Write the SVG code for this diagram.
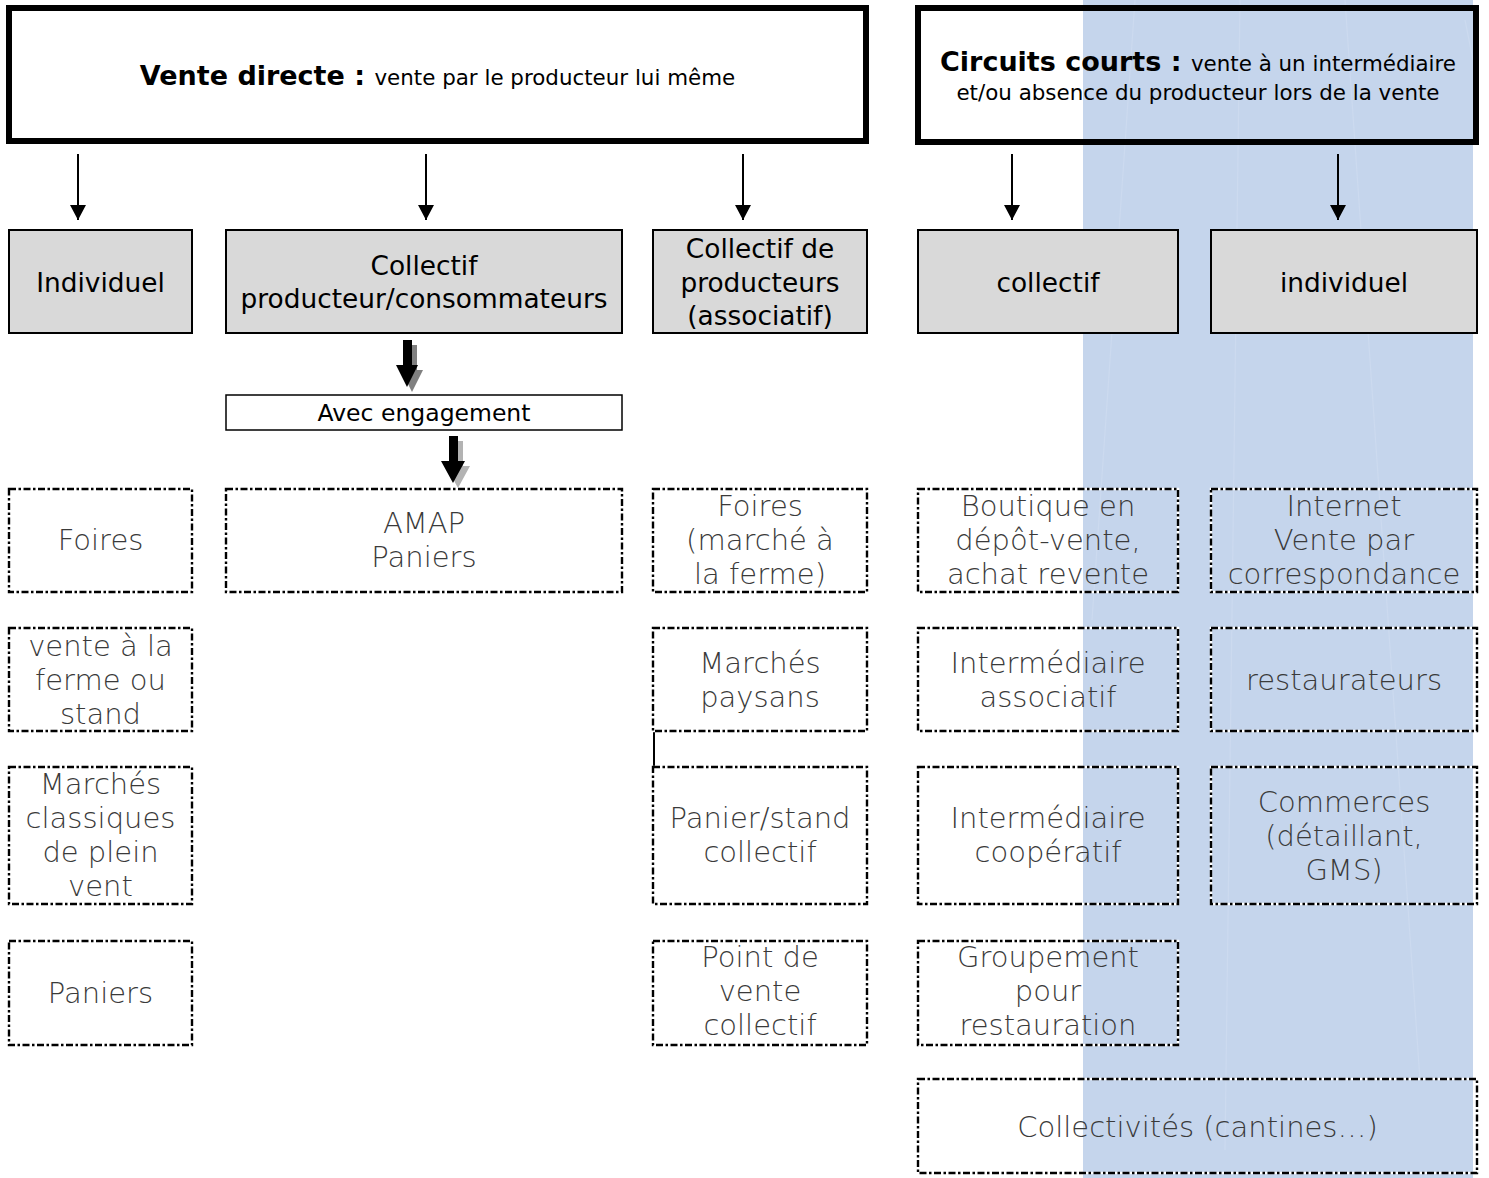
<svg xmlns="http://www.w3.org/2000/svg" width="1489" height="1178" viewBox="0 0 1489 1178">
<style>
  .hdr { fill: none; stroke: #000; stroke-width: 6; }
  .cat { fill: #D9D9D9; stroke: #000; stroke-width: 2; }
  .dashu { fill: none; stroke: #fff; stroke-width: 2.4; }
  .dash { fill: none; stroke: #000; stroke-width: 2.4; stroke-dasharray: 7 2.5 2.5 2.5; }
  .t { font-family: "DejaVu Sans", "Liberation Sans", sans-serif; fill: #000; text-anchor: middle; }
  .cat-t { font-size: 26.4px; }
  .lt { font-family: "DejaVu Sans ExtraLight", "DejaVu Sans", "Liberation Sans", sans-serif; font-weight: 200; font-size: 29px; fill: #3a3a3a; text-anchor: middle; }
  .b { font-weight: bold; font-size: 27px; }
  .s { font-size: 21.4px; }
  .thin { stroke: #000; stroke-width: 2; fill: none; }
  .band-line { stroke: #CCDAEF; stroke-width: 1.2; fill: none; }
</style>
<defs>
  <marker id="ah" markerWidth="16" markerHeight="16" refX="15" refY="8" orient="auto" markerUnits="userSpaceOnUse" viewBox="0 0 16 16">
    <path d="M0,0 L15,8 L0,16 Z" fill="#000"/>
  </marker>
</defs>
<rect width="1489" height="1178" fill="#fff"/>

<g id="band">
  <rect x="1083" y="0" width="390" height="1178" fill="#C5D5EC"/>
  <path class="band-line" d="M1135,0 L1092,620"/>
  <path class="band-line" d="M1240,0 L1225,1150"/>
  <path class="band-line" d="M1345,0 L1420,1080"/>
  <path class="band-line" d="M1465,20 L1473,60"/>
</g>

<g id="vente-directe">
  <rect class="hdr" x="9" y="8" width="857" height="133"/>
  <text class="t" x="437.5" y="85"><tspan class="b">Vente directe : </tspan><tspan class="s">vente par le producteur lui même</tspan></text>
</g>
<g id="circuits-courts">
  <rect class="hdr" x="918" y="8" width="558" height="134"/>
  <text class="t" x="1198" y="71"><tspan class="b">Circuits courts : </tspan><tspan class="s">vente à un intermédiaire</tspan></text>
  <text class="t s" x="1198" y="100">et/ou absence du producteur lors de la vente</text>
</g>

<g id="connectors">
  <line class="thin" x1="78" y1="154" x2="78" y2="220" marker-end="url(#ah)"/>
  <line class="thin" x1="426" y1="154" x2="426" y2="220" marker-end="url(#ah)"/>
  <line class="thin" x1="743" y1="154" x2="743" y2="220" marker-end="url(#ah)"/>
  <line class="thin" x1="1012" y1="154" x2="1012" y2="220" marker-end="url(#ah)"/>
  <line class="thin" x1="1338" y1="154" x2="1338" y2="220" marker-end="url(#ah)"/>
  <path d="M408,345 L417,345 L417,370 L423,370 L412,392 L401,370 L408,370 Z" fill="#808080"/>
  <path d="M403,340 L412,340 L412,365 L418,365 L407,387 L396,365 L403,365 Z" fill="#000"/>
  <path d="M454,441 L463,441 L463,466 L470,466 L458,488 L446,466 L454,466 Z" fill="#B3B3B3"/>
  <path d="M449,436 L458,436 L458,461 L465,461 L453,483 L441,461 L449,461 Z" fill="#000"/>
  <line x1="654" y1="731" x2="654" y2="767" stroke="#000" stroke-width="2"/>
</g>

<g id="individuel-vd">
  <rect class="cat" x="9" y="230" width="183" height="103"/>
  <text class="t cat-t" x="100.5" y="292">Individuel</text>
</g>
<g id="collectif-prod-conso">
  <rect class="cat" x="226" y="230" width="396" height="103"/>
  <text class="t cat-t" x="424" y="275">Collectif</text>
  <text class="t cat-t" x="424" y="308">producteur/consommateurs</text>
</g>
<g id="collectif-producteurs">
  <rect class="cat" x="653" y="230" width="214" height="103"/>
  <text class="t cat-t" x="760" y="258">Collectif de</text>
  <text class="t cat-t" x="760" y="292">producteurs</text>
  <text class="t cat-t" x="760" y="325">(associatif)</text>
</g>
<g id="collectif-cc">
  <rect class="cat" x="918" y="230" width="260" height="103"/>
  <text class="t cat-t" x="1048" y="292">collectif</text>
</g>
<g id="individuel-cc">
  <rect class="cat" x="1211" y="230" width="266" height="103"/>
  <text class="t cat-t" x="1344" y="292">individuel</text>
</g>

<g id="avec-engagement">
  <rect x="226" y="395" width="396" height="35" fill="#fff" stroke="#000" stroke-width="1.5"/>
  <text class="t" x="424" y="421" font-size="23.5">Avec engagement</text>
</g>

<g id="foires-1">
  <rect class="dashu" x="9" y="489" width="183" height="103"/><rect class="dash" x="9" y="489" width="183" height="103"/>
  <text class="lt" x="100.5" y="550">Foires</text>
</g>
<g id="vente-ferme">
  <rect class="dashu" x="9" y="628" width="183" height="103"/><rect class="dash" x="9" y="628" width="183" height="103"/>
  <text class="lt" x="100.5" y="656">vente à la</text>
  <text class="lt" x="100.5" y="690">ferme ou</text>
  <text class="lt" x="100.5" y="724">stand</text>
</g>
<g id="marches-classiques">
  <rect class="dashu" x="9" y="767" width="183" height="137"/><rect class="dash" x="9" y="767" width="183" height="137"/>
  <text class="lt" x="100.5" y="794">Marchés</text>
  <text class="lt" x="100.5" y="828">classiques</text>
  <text class="lt" x="100.5" y="862">de plein</text>
  <text class="lt" x="100.5" y="896">vent</text>
</g>
<g id="paniers-1">
  <rect class="dashu" x="9" y="941" width="183" height="104"/><rect class="dash" x="9" y="941" width="183" height="104"/>
  <text class="lt" x="100.5" y="1003">Paniers</text>
</g>

<g id="amap">
  <rect class="dashu" x="226" y="489" width="396" height="103"/><rect class="dash" x="226" y="489" width="396" height="103"/>
  <text class="lt" x="424" y="533">AMAP</text>
  <text class="lt" x="424" y="567">Paniers</text>
</g>

<g id="foires-2">
  <rect class="dashu" x="653" y="489" width="214" height="103"/><rect class="dash" x="653" y="489" width="214" height="103"/>
  <text class="lt" x="760" y="516">Foires</text>
  <text class="lt" x="760" y="550">(marché à</text>
  <text class="lt" x="760" y="584">la ferme)</text>
</g>
<g id="marches-paysans">
  <rect class="dashu" x="653" y="628" width="214" height="103"/><rect class="dash" x="653" y="628" width="214" height="103"/>
  <text class="lt" x="760" y="673">Marchés</text>
  <text class="lt" x="760" y="707">paysans</text>
</g>
<g id="panier-stand">
  <rect class="dashu" x="653" y="767" width="214" height="137"/><rect class="dash" x="653" y="767" width="214" height="137"/>
  <text class="lt" x="760" y="828">Panier/stand</text>
  <text class="lt" x="760" y="862">collectif</text>
</g>
<g id="point-vente">
  <rect class="dashu" x="653" y="941" width="214" height="104"/><rect class="dash" x="653" y="941" width="214" height="104"/>
  <text class="lt" x="760" y="967">Point de</text>
  <text class="lt" x="760" y="1001">vente</text>
  <text class="lt" x="760" y="1035">collectif</text>
</g>

<g id="boutique">
  <rect class="dashu" x="918" y="489" width="260" height="103"/><rect class="dash" x="918" y="489" width="260" height="103"/>
  <text class="lt" x="1048" y="516">Boutique en</text>
  <text class="lt" x="1048" y="550">dépôt-vente,</text>
  <text class="lt" x="1048" y="584">achat revente</text>
</g>
<g id="intermediaire-associatif">
  <rect class="dashu" x="918" y="628" width="260" height="103"/><rect class="dash" x="918" y="628" width="260" height="103"/>
  <text class="lt" x="1048" y="673">Intermédiaire</text>
  <text class="lt" x="1048" y="707">associatif</text>
</g>
<g id="intermediaire-cooperatif">
  <rect class="dashu" x="918" y="767" width="260" height="137"/><rect class="dash" x="918" y="767" width="260" height="137"/>
  <text class="lt" x="1048" y="828">Intermédiaire</text>
  <text class="lt" x="1048" y="862">coopératif</text>
</g>
<g id="groupement">
  <rect class="dashu" x="918" y="941" width="260" height="104"/><rect class="dash" x="918" y="941" width="260" height="104"/>
  <text class="lt" x="1048" y="967">Groupement</text>
  <text class="lt" x="1048" y="1001">pour</text>
  <text class="lt" x="1048" y="1035">restauration</text>
</g>

<g id="internet">
  <rect class="dashu" x="1211" y="489" width="266" height="103"/><rect class="dash" x="1211" y="489" width="266" height="103"/>
  <text class="lt" x="1344" y="516">Internet</text>
  <text class="lt" x="1344" y="550">Vente par</text>
  <text class="lt" x="1344" y="584">correspondance</text>
</g>
<g id="restaurateurs">
  <rect class="dashu" x="1211" y="628" width="266" height="103"/><rect class="dash" x="1211" y="628" width="266" height="103"/>
  <text class="lt" x="1344" y="690">restaurateurs</text>
</g>
<g id="commerces">
  <rect class="dashu" x="1211" y="767" width="266" height="137"/><rect class="dash" x="1211" y="767" width="266" height="137"/>
  <text class="lt" x="1344" y="812">Commerces</text>
  <text class="lt" x="1344" y="846">(détaillant,</text>
  <text class="lt" x="1344" y="880">GMS)</text>
</g>

<g id="collectivites">
  <rect class="dashu" x="918" y="1079" width="559" height="94"/><rect class="dash" x="918" y="1079" width="559" height="94"/>
  <text class="lt" x="1197.5" y="1137">Collectivités (cantines…)</text>
</g>
</svg>
